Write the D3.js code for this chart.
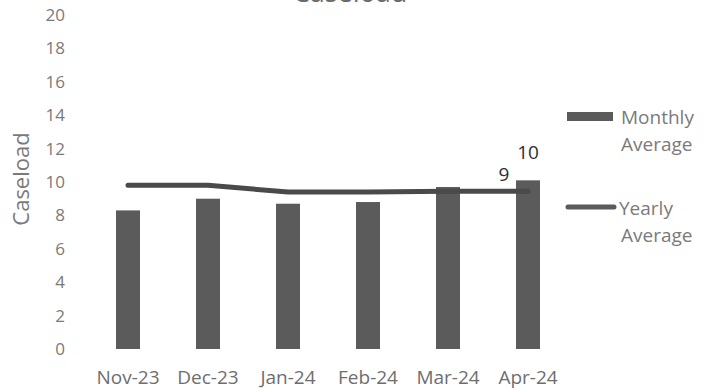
<!DOCTYPE html>
<html>
<head>
<meta charset="utf-8">
<script src="https://cdn.jsdelivr.net/npm/d3@7"></script>
<style>
  html, body { margin: 0; padding: 0; background: #fff; }
  svg { display: block; }
  text { font-family: "Open Sans", "DejaVu Sans", sans-serif; }
</style>
</head>
<body>
<svg id="chart" width="715" height="392"></svg>
<script>
// Caseload per month
const months = ["Nov-23", "Dec-23", "Jan-24", "Feb-24", "Mar-24", "Apr-24"];
const monthlyAverage = [8.3, 9.0, 8.7, 8.8, 9.7, 10.1];
const yearlyAverage = [9.8, 9.8, 9.4, 9.4, 9.45, 9.45];
const yTicks = [0, 2, 4, 6, 8, 10, 12, 14, 16, 18, 20];

const svg = d3.select("#chart");

const x = d3.scaleBand()
  .domain(months)
  .range([88, 568])
  .paddingInner(0.7)
  .paddingOuter(0.35);

const y = d3.scaleLinear()
  .domain([0, 20])
  .range([349, 15]);

// Title, set high at the top edge
svg.append("text")
  .attr("x", 350).attr("y", 2)
  .attr("text-anchor", "middle")
  .attr("font-size", 27)
  .attr("fill", "#6a6a6a")
  .text("Caseload");

// Y axis labels
const yAxis = d3.axisLeft(y).tickValues(yTicks).tickSize(0).tickPadding(0);
const gy = svg.append("g").attr("transform", "translate(65,0)").call(yAxis);
gy.select(".domain").remove();
gy.selectAll("text")
  .attr("font-family", "Open Sans, sans-serif")
  .attr("font-size", 17)
  .attr("fill", "#7a7a7a");

// X axis labels
const xAxis = d3.axisBottom(x).tickSize(0).tickPadding(0);
const gx = svg.append("g").attr("transform", "translate(0,370)").call(xAxis);
gx.select(".domain").remove();
gx.selectAll("text")
  .attr("font-family", "Open Sans, sans-serif")
  .attr("font-size", 19)
  .attr("fill", "#6e6e6e");

// Y axis title
svg.append("text")
  .attr("transform", "translate(29,179) rotate(-90)")
  .attr("text-anchor", "middle")
  .attr("font-size", 22)
  .attr("fill", "#7a7a7a")
  .text("Caseload");

// Monthly bars
svg.append("g").selectAll("rect")
  .data(monthlyAverage)
  .join("rect")
  .attr("x", (d, i) => x(months[i]))
  .attr("width", x.bandwidth())
  .attr("y", d => y(d))
  .attr("height", d => y(0) - y(d))
  .attr("fill", "#5b5b5b");

// Yearly average line
const line = d3.line()
  .x((d, i) => x(months[i]) + x.bandwidth() / 2)
  .y(d => y(d))
  .curve(d3.curveLinear);

svg.append("path")
  .datum(yearlyAverage)
  .attr("d", line)
  .attr("fill", "none")
  .attr("stroke", "#4a4a4a")
  .attr("stroke-width", 5)
  .attr("stroke-linecap", "round")
  .attr("stroke-linejoin", "round");

// Value labels for the last month
const last = months.length - 1;
svg.append("text")
  .attr("x", x(months[last]) + x.bandwidth() / 2)
  .attr("y", y(monthlyAverage[last]) - 21)
  .attr("text-anchor", "middle")
  .attr("font-size", 19)
  .attr("fill", "#2e2e2e")
  .text(d3.format(".0f")(monthlyAverage[last]));

svg.append("text")
  .attr("x", x(months[last]) - 12)
  .attr("y", y(yearlyAverage[last]) - 10)
  .attr("text-anchor", "middle")
  .attr("font-size", 19)
  .attr("fill", "#2e2e2e")
  .text(d3.format(".0f")(yearlyAverage[last]));

// Legend
const legend = svg.append("g");
legend.append("rect")
  .attr("x", 567).attr("y", 112)
  .attr("width", 46).attr("height", 9)
  .attr("fill", "#5b5b5b");
legend.append("text")
  .attr("x", 621).attr("y", 124)
  .attr("font-size", 19).attr("fill", "#7a7a7a")
  .text("Monthly");
legend.append("text")
  .attr("x", 621).attr("y", 151)
  .attr("font-size", 19).attr("fill", "#7a7a7a")
  .text("Average");

legend.append("line")
  .attr("x1", 568).attr("x2", 614)
  .attr("y1", 207).attr("y2", 207)
  .attr("stroke", "#5b5b5b")
  .attr("stroke-width", 5)
  .attr("stroke-linecap", "round");
legend.append("text")
  .attr("x", 619).attr("y", 215)
  .attr("font-size", 19).attr("fill", "#7a7a7a")
  .text("Yearly");
legend.append("text")
  .attr("x", 621).attr("y", 242)
  .attr("font-size", 19).attr("fill", "#7a7a7a")
  .text("Average");
</script>
</body>
</html>
